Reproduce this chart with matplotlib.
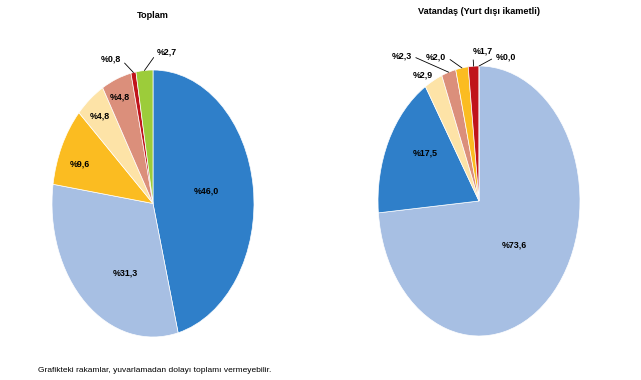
import numpy as np
import matplotlib
matplotlib.use("Agg")
import matplotlib.pyplot as plt

plt.rcParams["font.family"] = ["Liberation Sans Narrow", "Liberation Sans", "DejaVu Sans"]

# Renkler
DARK_BLUE = "#2f7fc9"
LIGHT_BLUE = "#a7bfe3"
GOLD = "#fbbc21"
PEACH = "#fde3a7"
SALMON = "#db8f7b"
RED = "#c0141b"
GREEN = "#9ccc3a"

# Toplam
toplam_values = [46.0, 31.3, 9.6, 4.8, 4.8, 0.8, 2.7]
toplam_labels = ["%46,0", "%31,3", "%9,6", "%4,8", "%4,8", "%0,8", "%2,7"]
toplam_colors = [DARK_BLUE, LIGHT_BLUE, GOLD, PEACH, SALMON, RED, GREEN]

# Vatandas (Yurt disi ikametli)
vatandas_values = [73.6, 17.5, 2.9, 2.3, 2.0, 1.7, 0.0]
vatandas_labels = ["%73,6", "%17,5", "%2,9", "%2,3", "%2,0", "%1,7", "%0,0"]
vatandas_colors = [LIGHT_BLUE, DARK_BLUE, PEACH, SALMON, GOLD, RED, GREEN]

# label placement: (radius, angle shift in degrees, leader line?)
toplam_place = [(0.54, 3, False), (0.59, 14, False), (0.78, 3, False),
                (0.84, 0, False), (0.865, 1, False), (1.16, 10, True),
                (1.14, -12, True)]
vatandas_place = [(0.48, 0, False), (0.64, -7, False), (1.085, 4, False),
                  (1.32, 18, True), (1.15, 12, True), (1.11, -5, True),
                  (1.10, -14, True)]

LABEL_SIZE = 6.4
TITLE_SIZE = 6.6


def draw_pie(ax, values, labels, colors, place):
    ax.pie(values, colors=colors, startangle=90, counterclock=False,
           wedgeprops=dict(edgecolor="white", linewidth=0.5))
    ax.set_aspect("auto")
    ax.set_xlim(-1, 1)
    ax.set_ylim(-1, 1)

    total = sum(values)
    cum = 0.0
    for val, lab, (r, shift, leader) in zip(values, labels, place):
        mid = 90 - (cum + val / 2) / total * 360
        cum += val
        ang = np.deg2rad(mid + shift)
        tx, ty = r * np.cos(ang), r * np.sin(ang)
        if leader:
            ex, ey = np.cos(np.deg2rad(mid)), np.sin(np.deg2rad(mid))
            left = tx < ex
            ax.annotate(lab, xy=(ex, ey), xytext=(tx, ty),
                        ha="center", va="center", fontsize=LABEL_SIZE,
                        fontweight="bold", annotation_clip=False,
                        arrowprops=dict(arrowstyle="-", color="black", lw=0.6,
                                        shrinkA=1, shrinkB=0,
                                        relpos=(1, 0.5) if left else (0, 0.5)))
        else:
            ax.text(tx, ty, lab, ha="center", va="center", fontsize=LABEL_SIZE,
                    fontweight="bold", clip_on=False)


fig = plt.figure(figsize=(6.41, 3.8), dpi=100)

ax1 = fig.add_axes([52 / 641, 43 / 380, 202 / 641, 267 / 380])
draw_pie(ax1, toplam_values, toplam_labels, toplam_colors, toplam_place)
fig.text(153 / 641, 1 - 16 / 380, "Toplam", ha="center", va="center",
         fontsize=TITLE_SIZE, fontweight="bold")

ax2 = fig.add_axes([378 / 641, 44 / 380, 202 / 641, 270 / 380])
draw_pie(ax2, vatandas_values, vatandas_labels, vatandas_colors, vatandas_place)
fig.text(479 / 641, 1 - 12 / 380, "Vatandaş (Yurt dışı ikametli)", ha="center",
         va="center", fontsize=TITLE_SIZE, fontweight="bold")

fig.text(38 / 641, 1 - 371 / 380,
         "Grafikteki rakamlar, yuvarlamadan dolayı toplamı vermeyebilir.",
         ha="left", va="center", fontsize=6)

fig.savefig("out.png", dpi=100)
